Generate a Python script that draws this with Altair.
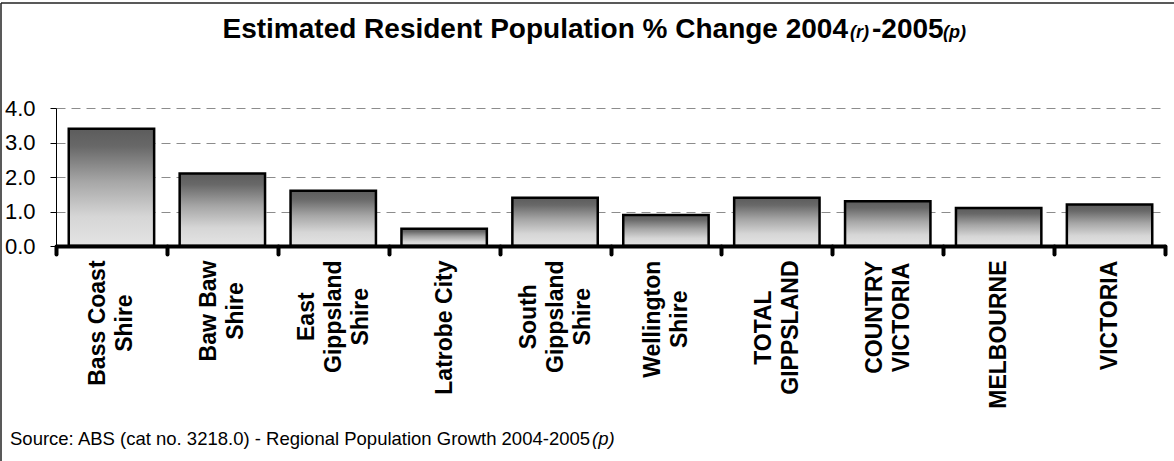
import altair as alt
import pandas as pd

# ---- data ----
categories = ["Bass Coast|Shire", "Baw Baw|Shire", "East|Gippsland|Shire", "Latrobe City",
              "South|Gippsland|Shire", "Wellington|Shire", "TOTAL|GIPPSLAND",
              "COUNTRY|VICTORIA", "MELBOURNE", "VICTORIA"]
values = [3.4, 2.1, 1.6, 0.5, 1.4, 0.9, 1.4, 1.3, 1.1, 1.2]
y_ticks = [0, 1, 2, 3, 4]

title_main = "Estimated Resident Population % Change 2004"
title_r = "(r)"
title_year2 = "-2005"
title_p = "(p)"
source_main = "Source: ABS (cat no. 3218.0) - Regional Population Growth 2004-2005"
source_p = "(p)"

FONT = "Liberation Sans"
LABEL_SIZE = 23
LINE_H = 27

# Arial/Liberation Sans Bold advance widths (per 1000 em) for centring multi-line labels
AB = {' ': 278, 'A': 722, 'B': 722, 'C': 722, 'D': 722, 'E': 667, 'G': 778, 'I': 278,
      'L': 611, 'M': 833, 'N': 722, 'O': 778, 'P': 667, 'R': 722, 'S': 667, 'T': 611,
      'U': 722, 'V': 667, 'W': 944, 'Y': 667, 'a': 556, 'b': 611, 'c': 556, 'd': 611,
      'e': 556, 'g': 611, 'h': 611, 'i': 278, 'l': 278, 'n': 611, 'o': 611, 'p': 611,
      'r': 389, 's': 556, 't': 333, 'u': 611, 'w': 778, 'y': 556}


def text_width(s, size):
    return sum(AB.get(ch, 611) for ch in s) * size / 1000.0


pad_conds = []
off_conds = []
for c in categories:
    lines = c.split("|")
    w = max(text_width(line, LABEL_SIZE) for line in lines)
    test = "datum.value === '%s'" % c
    pad_conds.append({"test": test, "value": round(6 + w / 2.0, 1)})
    off_conds.append({"test": test, "value": -(len(lines) - 1) * LINE_H / 2.0})

df = pd.DataFrame({"cat": categories, "value": values})

gradient = alt.Gradient(
    gradient="linear", x1=0, x2=0, y1=0, y2=1,
    stops=[alt.GradientStop(color="#5c5c5c", offset=0),
           alt.GradientStop(color="#686868", offset=0.15),
           alt.GradientStop(color="#a6a6a6", offset=0.45),
           alt.GradientStop(color="#d6d6d6", offset=0.75),
           alt.GradientStop(color="#e4e4e4", offset=1)])

bars = alt.Chart(df).mark_bar(
    fill=gradient, stroke="black", strokeWidth=2.5, width=alt.RelativeBandSize(0.77)
).encode(
    x=alt.X("cat:N", sort=categories,
            scale=alt.Scale(paddingInner=0, paddingOuter=0),
            axis=alt.Axis(title=None, labelAngle=270, labelAlign="center",
                          labelBaseline="middle", labelExpr="split(datum.label, '|')",
                          labelFont=FONT, labelFontSize=LABEL_SIZE, labelFontWeight="bold",
                          labelColor="black", labelLineHeight=LINE_H, labelLimit=0,
                          labelPadding={"condition": pad_conds, "value": 8},
                          labelOffset={"condition": off_conds, "value": 0},
                          domainWidth=4, domainColor="black",
                          tickWidth=4, tickSize=8, tickCap="round", tickColor="black",
                          tickBand="extent", zindex=1, grid=False)),
    y=alt.Y("value:Q", scale=alt.Scale(domain=[0, 4], nice=False),
            axis=alt.Axis(title=None, values=y_ticks, format=".1f",
                          labelFont=FONT, labelFontSize=22, labelColor="black",
                          labelPadding=15, tickSize=6, tickColor="black",
                          domainColor="black", domainWidth=1,
                          grid=True, gridDash=[9, 6], gridColor="#8c8c8c", gridWidth=1,
                          zindex=0))
)

one = alt.Data(values=[{}])

t_main = alt.Chart(one).mark_text(text=title_main, font=FONT, fontSize=28, fontWeight="bold",
                                   align="right", baseline="alphabetic", color="black"
                                   ).encode(x=alt.value(792), y=alt.value(-70))
t_r = alt.Chart(one).mark_text(text=title_r, font=FONT, fontSize=18, fontWeight="bold",
                                fontStyle="italic", align="left", baseline="alphabetic",
                                color="black").encode(x=alt.value(794), y=alt.value(-70))
t_y2 = alt.Chart(one).mark_text(text=title_year2, font=FONT, fontSize=28, fontWeight="bold",
                                 align="left", baseline="alphabetic", color="black"
                                 ).encode(x=alt.value(816), y=alt.value(-70))
t_p = alt.Chart(one).mark_text(text=title_p, font=FONT, fontSize=18, fontWeight="bold",
                                fontStyle="italic", align="left", baseline="alphabetic",
                                color="black").encode(x=alt.value(887), y=alt.value(-70))

s_main = alt.Chart(one).mark_text(text=source_main, font=FONT, fontSize=18.5, align="left",
                                   baseline="alphabetic", color="black"
                                   ).encode(x=alt.value(-46), y=alt.value(337))
s_p = alt.Chart(one).mark_text(text=source_p, font=FONT, fontSize=18.5, fontStyle="italic",
                                align="left", baseline="alphabetic", color="black"
                                ).encode(x=alt.value(536), y=alt.value(337))

border_left = alt.Chart(one).mark_rule(color="#222222", strokeWidth=1.5).encode(
    x=alt.value(-55), y=alt.value(-105), y2=alt.value(360))
border_top = alt.Chart(one).mark_rule(color="#222222", strokeWidth=1.5).encode(
    x=alt.value(-55), x2=alt.value(1125), y=alt.value(-105))

chart = alt.layer(
    bars, t_main, t_r, t_y2, t_p, s_main, s_p, border_left, border_top
).properties(
    width=1109, height=138,
    autosize=alt.AutoSizeParams(type="none"),
    padding={"left": 56, "top": 108, "right": 9, "bottom": 215},
    background="white",
).configure_view(stroke=None)

chart.save("out.html", embed_options={"renderer": "svg", "actions": False})
